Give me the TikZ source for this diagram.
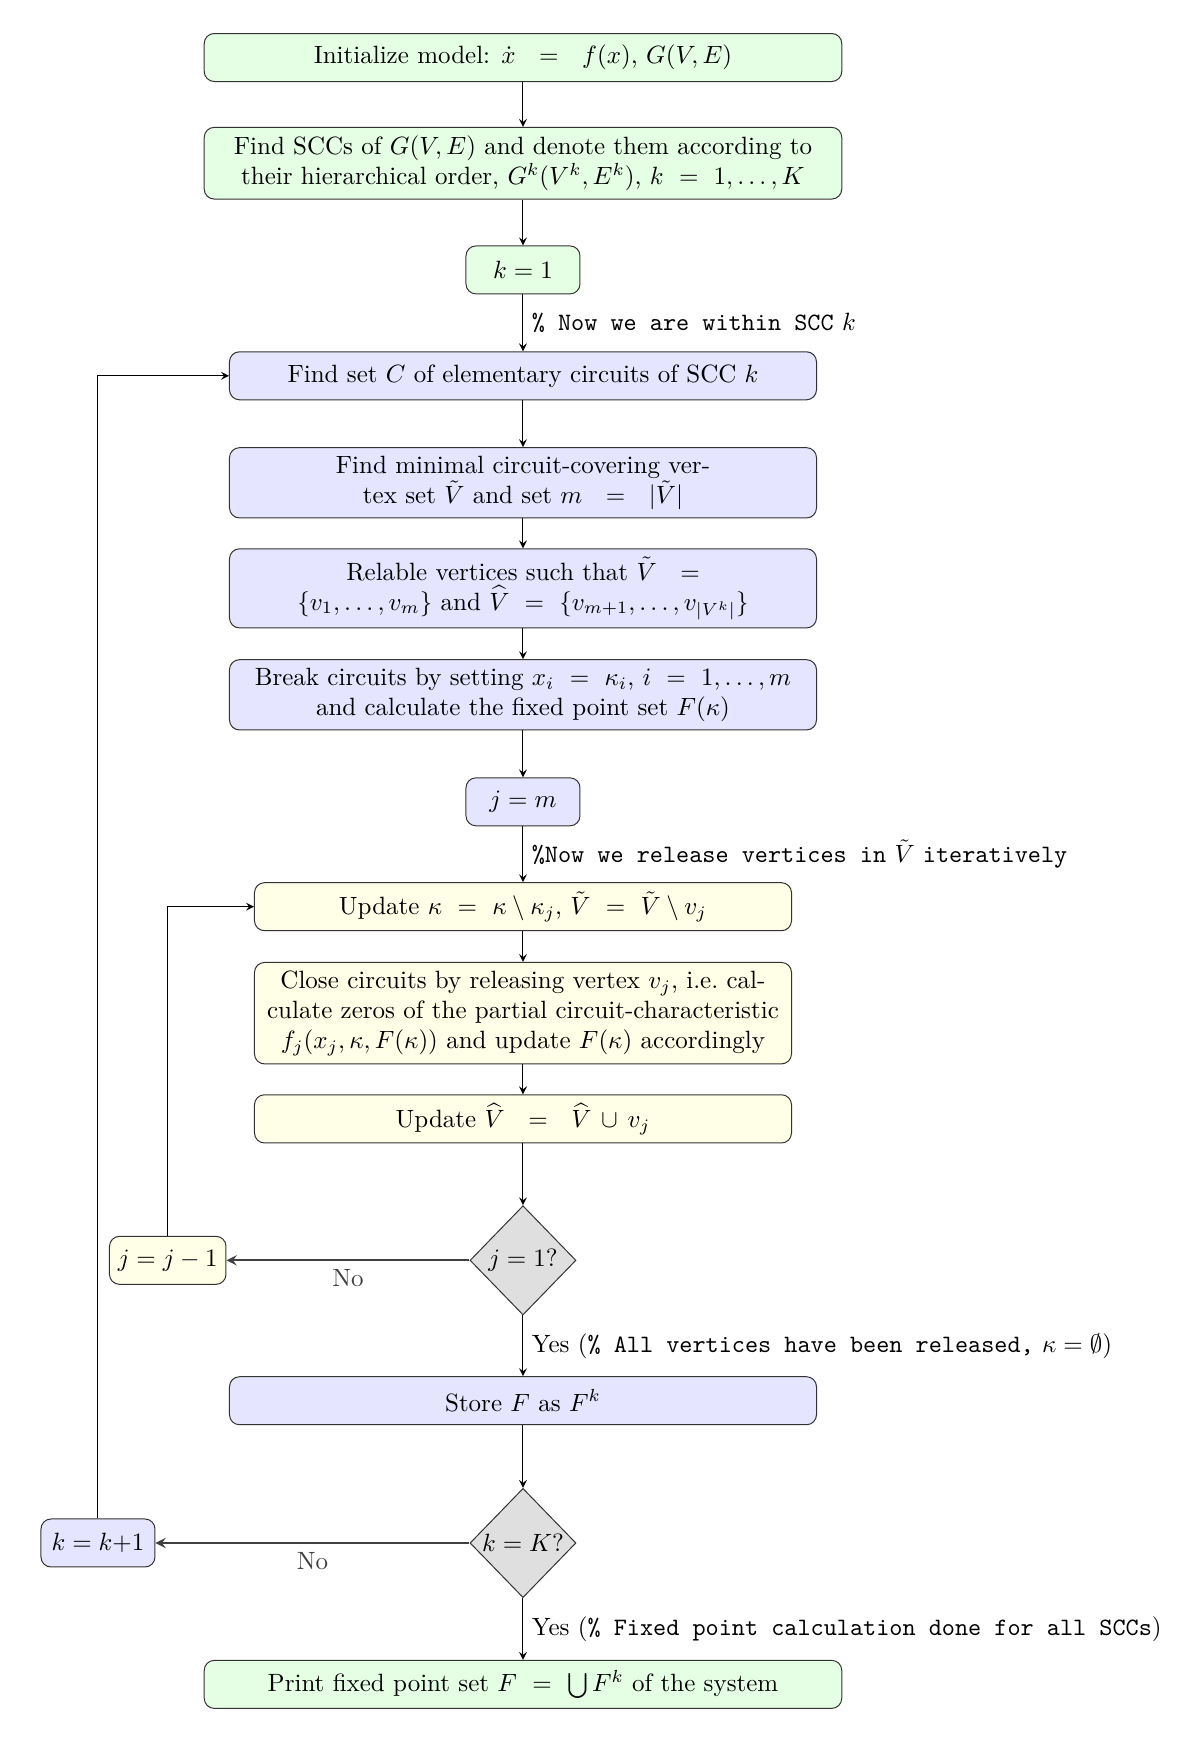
\documentclass[tikz,border=0pt]{standalone}
\usepackage{amsmath,amssymb}
\usepackage{tikz}
\usetikzlibrary{arrows.meta,arrows,shapes,positioning,calc}
\tikzset{
    flow/.style={->, >=stealth},
    noflow/.style={->, >=stealth, thick, black!75},
    box/.style={draw=black!80, rounded corners=4pt, minimum height=19.2pt, align=center},
    greenbox/.style={box, fill=green!10},
    bluebox/.style={box, fill=blue!10},
    yellowbox/.style={box, fill=yellow!10},
    widebox/.style={minimum width=255pt},
    midbox/.style={minimum width=234.8pt},
    narrowbox/.style={minimum width=214.8pt},
    smallbox/.style={minimum width=45.6pt},
    decision/.style={diamond, draw=black!80, fill=gray!25, inner sep=0pt, minimum width=42.4pt, minimum height=43.7pt}
}

\begin{document}
\begin{tikzpicture}
    \useasboundingbox (-209.2pt,23pt) rectangle (270.8pt,-675.8pt);

    \node[greenbox, widebox] (init) at (0,0) {Initialize model: $\dot{x}\ \ =\ \ f(x)$, $G(V,E)$};
    \node[greenbox, widebox, below=17.95pt of init] (scc) {Find SCCs of $G(V,E)$ and denote them according to\\ their hierarchical order, $G^k(V^k,E^k)$, $k\ =\ 1,\ldots,K$};
    \node[greenbox, smallbox, below=18.35pt of scc] (kone) {$k=1$};

    % within SCC k
    \node[bluebox, midbox, below=22.75pt of kone] (circ) {Find set $C$ of elementary circuits of SCC $k$};
    \node[bluebox, midbox, below=18.75pt of circ] (cover) {Find minimal circuit-covering ver-\\ tex set $\tilde{V}$ and set $m\ \ =\ \ |\tilde{V}|$};
    \node[bluebox, midbox, below=11.95pt of cover] (relab) {Relable vertices such that $\tilde{V}\ \ =$\\ $\{v_1,\ldots,v_m\}$ and $\widehat{V}\ =\ \{v_{m+1},\ldots,v_{|V^k|}\}$};
    \node[bluebox, midbox, below=12.3pt of relab] (break) {Break circuits by setting $x_i\ =\ \kappa_i$, $i\ =\ 1,\ldots,m$\\ and calculate the fixed point set $F(\kappa)$};
    \node[bluebox, smallbox, below=18.75pt of break] (jm) {$j=m$};

    % release loop
    \node[yellowbox, narrowbox, below=22.35pt of jm] (upd) {Update $\kappa\ =\ \kappa\setminus\kappa_j$, $\tilde{V}\ =\ \tilde{V}\setminus v_j$};
    \node[yellowbox, narrowbox, below=12.3pt of upd] (close) {Close circuits by releasing vertex $v_j$, i.e.\ cal-\\ culate zeros of the partial circuit-characteristic\\ $f_j(x_j,\kappa,F(\kappa))$ and update $F(\kappa)$ accordingly};
    \node[yellowbox, narrowbox, below=11.95pt of close] (updv) {Update $\widehat{V}\ \ =\ \ \widehat{V}\,\cup\,v_j$};
    \node[decision, below=24.7pt of updv] (jone) {$j=1?$};
    \node[yellowbox, minimum width=46.4pt, left=97.2pt of jone] (jdec) {$j=j-1$};

    \node[bluebox, midbox, below=24.3pt of jone] (store) {Store $F$ as $F^k$};
    \node[decision, below=25.06pt of store] (kend) {$k=K?$};
    \node[bluebox, smallbox, left=125.6pt of kend] (kinc) {$k=k{+}1$};
    \node[greenbox, widebox, below=24.7pt of kend] (print) {Print fixed point set $F\ =\ \bigcup F^k$ of the system};

    \draw[flow] (init) -- (scc);
    \draw[flow] (scc) -- (kone);
    \draw[flow] (kone) -- node[right] {\texttt{\% Now we are within SCC} $k$} (circ);
    \draw[flow] (circ) -- (cover);
    \draw[flow] (cover) -- (relab);
    \draw[flow] (relab) -- (break);
    \draw[flow] (break) -- (jm);
    \draw[flow] (jm) -- node[right] {\texttt{\%Now we release vertices in} $\tilde{V}$ \texttt{iteratively}} (upd);
    \draw[flow] (upd) -- (close);
    \draw[flow] (close) -- (updv);
    \draw[flow] (updv) -- (jone);
    \draw[noflow] (jone) -- node[below] {No} (jdec);
    \draw[flow] (jdec) |- (upd);
    \draw[flow] (jone) -- node[right] {Yes (\texttt{\% All vertices have been released,} $\kappa=\emptyset$)} (store);
    \draw[flow] (store) -- (kend);
    \draw[noflow] (kend) -- node[below] {No} (kinc);
    \draw[flow] (kinc) |- (circ);
    \draw[flow] (kend) -- node[right] {Yes (\texttt{\% Fixed point calculation done for all SCCs})} (print);
\end{tikzpicture}
\end{document}
